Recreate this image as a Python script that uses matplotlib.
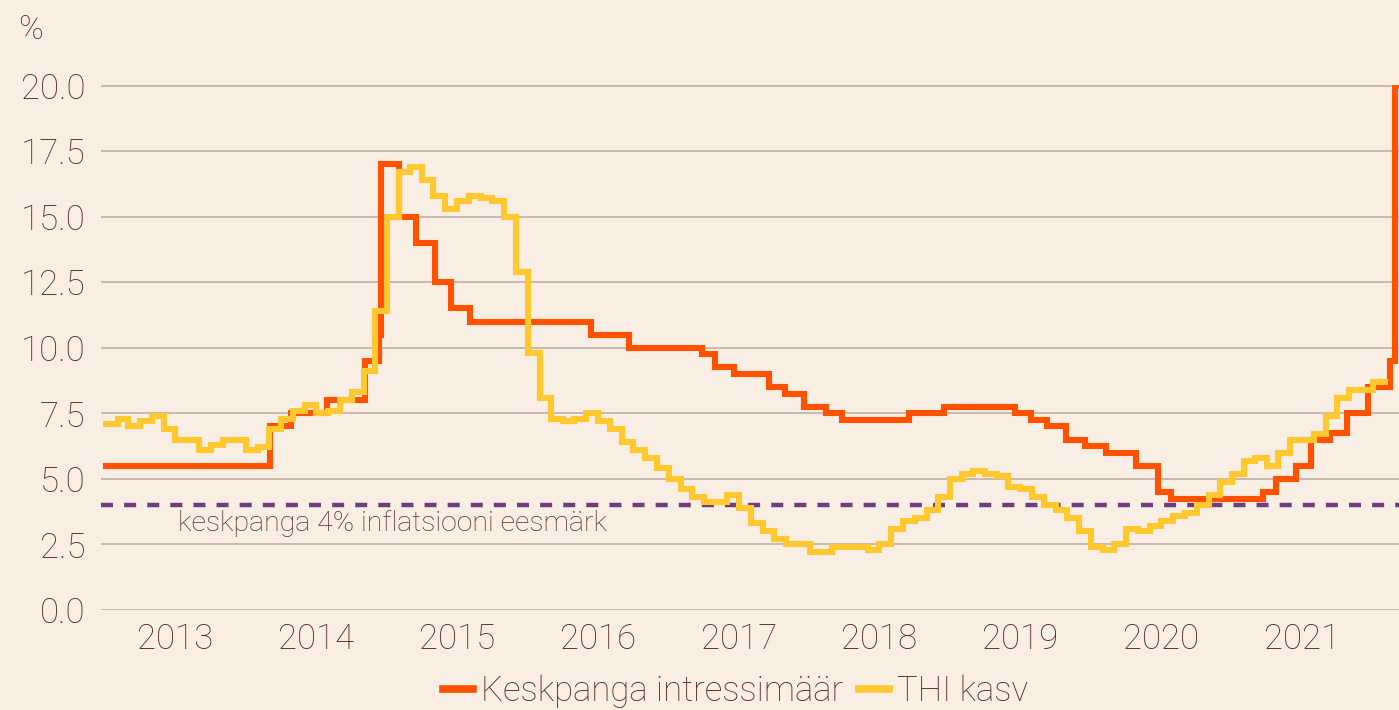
import matplotlib
matplotlib.use("Agg")
import matplotlib.pyplot as plt
import pandas as pd

# key rate: change dates and new rate (%)
rate_dates = [
    "2013-01-01", "2014-03-03", "2014-04-28", "2014-07-28", "2014-11-05",
    "2014-12-12", "2014-12-16", "2015-02-02", "2015-03-16", "2015-05-05",
    "2015-06-16", "2015-08-03", "2016-06-14", "2016-09-19", "2017-03-27",
    "2017-05-02", "2017-06-19", "2017-09-18", "2017-10-30", "2017-12-18",
    "2018-02-12", "2018-03-26", "2018-09-17", "2018-12-17", "2019-06-17",
    "2019-07-29", "2019-09-09", "2019-10-28", "2019-12-16", "2020-02-10",
    "2020-04-27", "2020-06-22", "2020-07-27", "2021-03-22", "2021-04-26",
    "2021-06-15", "2021-07-26", "2021-09-13", "2021-10-25", "2021-12-20",
    "2022-02-14", "2022-02-28", "2022-03-10",
]
rate_vals = [
    5.5, 7.0, 7.5, 8.0, 9.5,
    10.5, 17.0, 15.0, 14.0, 12.5,
    11.5, 11.0, 10.5, 10.0, 9.75,
    9.25, 9.0, 8.5, 8.25, 7.75,
    7.5, 7.25, 7.5, 7.75, 7.5,
    7.25, 7.0, 6.5, 6.25, 6.0,
    5.5, 4.5, 4.25, 4.5, 5.0,
    5.5, 6.5, 6.75, 7.5, 8.5,
    9.5, 20.0, 20.0,
]

# CPI y/y, monthly Jan 2013 .. Jan 2022
cpi_vals = [
    7.1, 7.3, 7.0, 7.2, 7.4, 6.9, 6.5, 6.5, 6.1, 6.3, 6.5, 6.5,
    6.1, 6.2, 6.9, 7.3, 7.6, 7.8, 7.5, 7.6, 8.0, 8.3, 9.1, 11.4,
    15.0, 16.7, 16.9, 16.4, 15.8, 15.3, 15.6, 15.8, 15.7, 15.6, 15.0, 12.9,
    9.8, 8.1, 7.3, 7.2, 7.3, 7.5, 7.2, 6.9, 6.4, 6.1, 5.8, 5.4,
    5.0, 4.6, 4.3, 4.1, 4.1, 4.4, 3.9, 3.3, 3.0, 2.7, 2.5, 2.5,
    2.2, 2.2, 2.4, 2.4, 2.4, 2.3, 2.5, 3.1, 3.4, 3.5, 3.8, 4.3,
    5.0, 5.2, 5.3, 5.2, 5.1, 4.7, 4.6, 4.3, 4.0, 3.8, 3.5, 3.0,
    2.4, 2.3, 2.5, 3.1, 3.0, 3.2, 3.4, 3.6, 3.7, 4.0, 4.4, 4.9,
    5.2, 5.7, 5.8, 5.5, 6.0, 6.5, 6.5, 6.7, 7.4, 8.1, 8.4, 8.4,
    8.7,
]
cpi_dates = pd.date_range("2013-01-01", periods=len(cpi_vals) + 1, freq="MS")

target = 4.0
years = list(range(2013, 2022))
y_ticks = [0, 2.5, 5, 7.5, 10, 12.5, 15, 17.5, 20]

BG = "#F9EEE4"
TXT = "#5B2E2B"
GRID = "#BBA9A2"
ORANGE = "#FF5200"
YELLOW = "#FFC82E"
PURPLE = "#6F3C80"

plt.rcParams["font.family"] = ["Roboto", "DejaVu Sans"]

W, H = 1399, 710
fig = plt.figure(figsize=(W / 100, H / 100), dpi=100, facecolor=BG)
ax = fig.add_axes([101 / W, (H - 610) / H, 1 - 101 / W, (610 - 85) / H])
ax.set_facecolor(BG)

rd = pd.to_datetime(rate_dates)
ax.axhline(target, color=PURPLE, lw=3.2, ls=(0, (2.7, 2.5)), zorder=2)
ax.step(rd, rate_vals, where="post", color=ORANGE, lw=4.4, zorder=3,
        label="Keskpanga intressimäär", solid_joinstyle="miter")
cv = cpi_vals + [cpi_vals[-1]]
ax.step(cpi_dates, cv, where="post", color=YELLOW, lw=4.4, zorder=4,
        label="THI kasv", solid_joinstyle="miter")

ax.set_xlim(pd.Timestamp("2012-12-20"), pd.Timestamp("2022-03-10"))
ax.set_ylim(0, 20.02)
ax.set_yticks(y_ticks)
ax.set_yticklabels([f"{v:.1f}" for v in y_ticks])
ax.set_xticks([pd.Timestamp(f"{y}-07-01") for y in years])
ax.set_xticklabels([str(y) for y in years])
ax.grid(axis="y", color=GRID, lw=1.1, zorder=1)
ax.tick_params(axis="y", length=0, pad=11, labelsize=25, labelcolor=TXT)
ax.tick_params(axis="x", length=0, pad=9, labelsize=25, labelcolor=TXT)
for lab in ax.get_xticklabels() + ax.get_yticklabels():
    lab.set_fontweight("light")
for s in ax.spines.values():
    s.set_visible(False)

ax.text(0.013, 0.98, "%", transform=fig.transFigure, fontsize=24,
        color=TXT, fontweight="light", ha="left", va="top")
ax.text(pd.Timestamp("2013-07-08"), 3.3, "keskpanga 4% inflatsiooni eesmärk",
        fontsize=20.5, color=TXT, fontweight="light", ha="left", va="center")

leg = fig.legend(loc="center", bbox_to_anchor=(0.526, 19 / H), ncol=2,
                 frameon=False, fontsize=25, handlelength=0.87,
                 handletextpad=0.23, columnspacing=0.45,
                 borderpad=0, borderaxespad=0)
for t in leg.get_texts():
    t.set_color(TXT)
    t.set_fontweight("light")
for h in leg.get_lines():
    h.set_linewidth(5.5)

fig.savefig("out.png", dpi=100, facecolor=BG)
